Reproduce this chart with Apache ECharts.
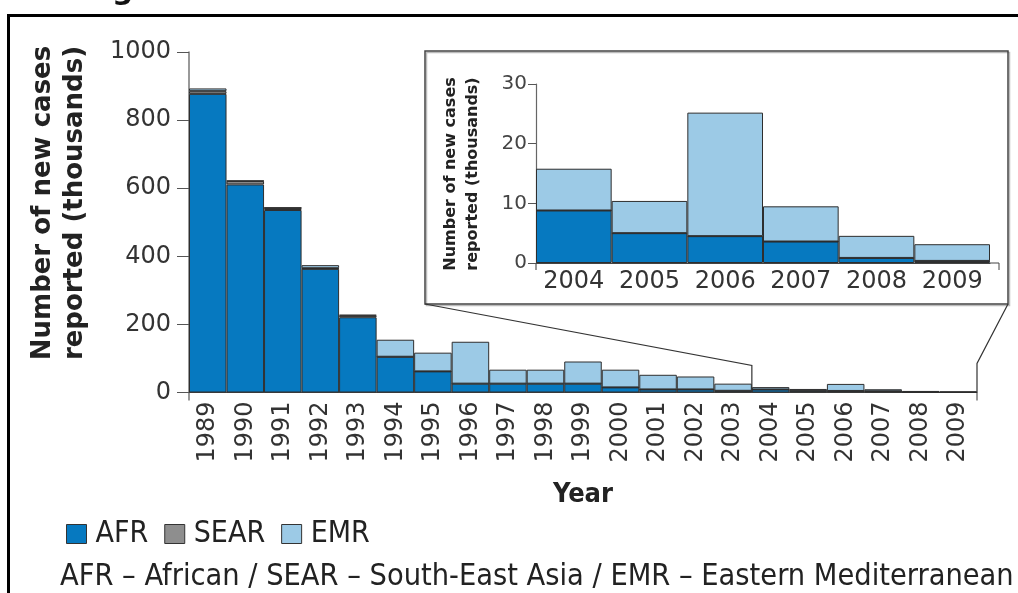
<!DOCTYPE html>
<html><head><meta charset="utf-8">
<script src="https://cdn.jsdelivr.net/npm/echarts/dist/echarts.min.js"></script>
<style>html,body{margin:0;padding:0;background:#fff;overflow:hidden}#c{width:1018px;height:593px}</style>
</head><body><div id="c"></div><script>
// ---- data (thousands of new cases) ----
const years = ['1989','1990','1991','1992','1993','1994','1995','1996','1997','1998','1999','2000','2001','2002','2003','2004','2005','2006','2007','2008','2009'];
const afr  = [877, 611, 536, 363, 221, 105, 62, 26, 26, 26, 26, 15, 9, 9, 5, 8.8, 5.0, 4.5, 3.6, 0.85, 0.35];
const sear = [8, 10, 6, 2, 5, 0, 0, 0, 0, 0, 0, 0, 0, 0, 0, 0, 0, 0, 0, 0, 0];
const emr  = [8, 1, 1, 9, 2, 50, 55, 123, 41, 41, 65, 52, 43, 38, 21, 7.0, 5.4, 20.7, 5.9, 3.7, 2.8];
const mainTicks = [0, 200, 400, 600, 800, 1000];
const insetTicks = [0, 10, 20, 30];
const insetFrom = '2004';
const regionNames = ['AFR', 'SEAR', 'EMR'];
const footnote = 'AFR \u2013 African / SEAR \u2013 South-East Asia / EMR \u2013 Eastern Mediterranean';

// ---- styling ----
const NUM = "'DejaVu Sans', sans-serif";
const NARROW = "'Liberation Sans Narrow', 'DejaVu Sans Condensed', 'Arial Narrow', sans-serif";
const colors = { AFR: '#0679c0', SEAR: '#8e8e8e', EMR: '#9ccae6' };
const k = years.indexOf(insetFrom);
const iy = years.slice(k);
const seriesData = { AFR: afr, SEAR: sear, EMR: emr };

const main = { left: 189, top: 52, width: 788, height: 340.5 };
const ins = { left: 536, top: 84, width: 454, height: 179 };

function bar(name, data, idx, stack) {
  return {
    type: 'bar', name, data, xAxisIndex: idx, yAxisIndex: idx, stack,
    barCategoryGap: '0%', silent: true, emphasis: { disabled: true },
    itemStyle: { color: colors[name], borderColor: '#2e2e2e', borderWidth: 1 }
  };
}

const chart = echarts.init(document.getElementById('c'), null, { renderer: 'canvas' });
const series = [];
regionNames.forEach(n => series.push(bar(n, seriesData[n], 0, 'main')));
regionNames.forEach(n => series.push(bar(n, seriesData[n].slice(k), 1, 'inset')));

chart.setOption({
  animation: false,
  backgroundColor: '#fff',
  grid: [
    { left: main.left, top: main.top, width: main.width, height: main.height },
    { left: ins.left, top: ins.top, width: ins.width, height: ins.height }
  ],
  legend: {
    data: regionNames, left: 61, top: 514, icon: 'rect',
    itemWidth: 20, itemHeight: 19, itemGap: 16, selectedMode: false,
    itemStyle: { borderColor: '#333', borderWidth: 1 },
    textStyle: { fontFamily: NARROW, fontSize: 30, color: '#222', padding: [0, 0, 0, 4] }
  },
  xAxis: [
    { type: 'category', gridIndex: 0, data: years, boundaryGap: true,
      axisLine: { lineStyle: { color: '#444', width: 1 } }, axisTick: { show: false },
      axisLabel: { rotate: 90, interval: 0, fontFamily: NUM, fontSize: 24, color: '#333', margin: 9 },
      name: 'Year', nameLocation: 'middle', nameGap: 89,
      nameTextStyle: { fontFamily: NARROW, fontWeight: 'bold', fontSize: 27, color: '#222' } },
    { type: 'category', gridIndex: 1, data: iy, boundaryGap: true,
      axisLine: { lineStyle: { color: '#444', width: 1 } }, axisTick: { show: false },
      axisLabel: { interval: 0, fontFamily: NUM, fontSize: 24, color: '#333', margin: 7 } }
  ],
  yAxis: [
    { type: 'value', gridIndex: 0, min: mainTicks[0], max: mainTicks[mainTicks.length - 1], interval: mainTicks[1] - mainTicks[0],
      splitLine: { show: false },
      axisLine: { show: true, lineStyle: { color: '#777', width: 1.5 } },
      axisTick: { show: true, length: 12, lineStyle: { color: '#555' } },
      axisLabel: { fontFamily: NUM, fontSize: 24, color: '#333', margin: 18, formatter: v => String(v) } },
    { type: 'value', gridIndex: 1, min: insetTicks[0], max: insetTicks[insetTicks.length - 1], interval: insetTicks[1] - insetTicks[0],
      splitLine: { show: false },
      axisLine: { show: true, lineStyle: { color: '#666', width: 1.2 } },
      axisTick: { show: true, length: 8, lineStyle: { color: '#555' } },
      axisLabel: { fontFamily: NUM, fontSize: 20, color: '#444', margin: 9 } }
  ],
  series
});

// decorations derived from the axes
const catW = main.width / years.length;
const x2004 = chart.convertToPixel({ xAxisIndex: 0 }, insetFrom) - catW / 2;
const xEnd = main.left + main.width;
const y0 = chart.convertToPixel({ yAxisIndex: 0 }, 0);
const iy0 = chart.convertToPixel({ yAxisIndex: 1 }, 0);
const box = { x: 425, y: 51, w: 583, h: 253 };
const line = (pts, c, w) => ({ type: 'polyline', silent: true, shape: { points: pts }, style: { stroke: c || '#333', lineWidth: w || 1.2, fill: null } });

chart.setOption({
  graphic: [
    { type: 'rect', silent: true, shape: { x: 8.5, y: 15.5, width: 1200, height: 800 }, style: { fill: null, stroke: '#000', lineWidth: 3 } },
    { type: 'text', silent: true, left: 112, top: -24, style: { text: 'g', font: "bold 30px 'DejaVu Sans'", fill: '#111' } },
    { type: 'rect', silent: true, shape: { x: box.x + 1.5, y: box.y + 1.5, width: box.w, height: box.h }, style: { fill: null, stroke: '#bbb', lineWidth: 1.5 } },
    { type: 'rect', silent: true, shape: { x: box.x, y: box.y, width: box.w, height: box.h }, style: { fill: null, stroke: '#444', lineWidth: 1.5 } },
    line([[box.x, box.y + box.h], [x2004, y0 - 27], [x2004, y0]]),
    line([[box.x + box.w, box.y + box.h], [xEnd, y0 - 29], [xEnd, y0]]),
    line([[main.left, y0], [main.left, y0 + 8]], '#555'),
    line([[xEnd, y0], [xEnd, y0 + 8]], '#555'),
    line([[ins.left, iy0], [ins.left, iy0 + 7]], '#555'),
    line([[ins.left + ins.width, iy0], [999, iy0], [999, iy0 + 7]], '#444', 1),
    { type: 'text', silent: true, x: 59, y: 203, rotation: Math.PI / 2,
      style: { text: 'Number of new cases\nreported (thousands)', font: "bold 26px 'DejaVu Sans'", fill: '#222', align: 'center', verticalAlign: 'middle', lineHeight: 32 } },
    { type: 'text', silent: true, x: 462, y: 174, rotation: Math.PI / 2,
      style: { text: 'Number of new cases\nreported (thousands)', font: "bold 16px 'DejaVu Sans'", fill: '#222', align: 'center', verticalAlign: 'middle', lineHeight: 22 } },
    { type: 'text', silent: true, x: 60, y: 577,
      style: { text: footnote, font: "30.4px 'Liberation Sans Narrow', 'DejaVu Sans Condensed', sans-serif", fill: '#222', align: 'left', verticalAlign: 'middle' } }
  ]
});
</script></body></html>
